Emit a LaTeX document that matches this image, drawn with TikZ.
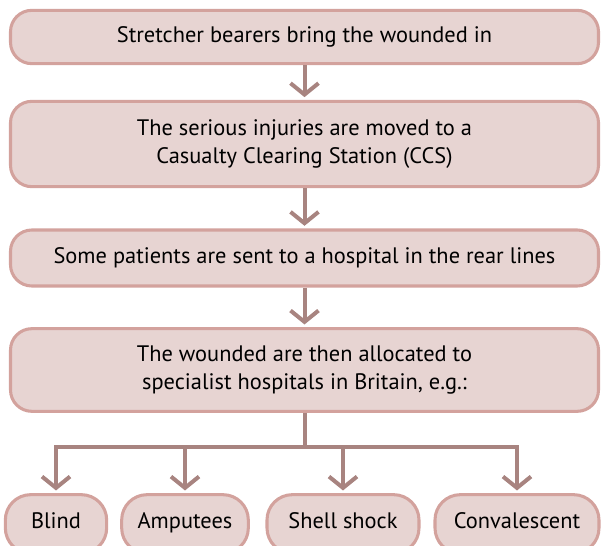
\documentclass[tikz,border=0pt]{standalone}
\usepackage{fontspec}
\setmainfont{PT Sans}
\usepackage{tikz}
\usetikzlibrary{arrows.meta, positioning}
\usepackage{xcolor}
\definecolor{boxfill}{RGB}{231, 212, 210}
\definecolor{boxline}{RGB}{211, 162, 157}
\definecolor{flowline}{RGB}{168, 132, 128}

\tikzset{
  stage/.style={draw=boxline, fill=boxfill, line width=2.3pt, rounded corners=16pt,
    align=center, inner sep=0pt, font=\fontsize{16.8}{20.5}\selectfont},
  ward/.style={stage, rounded corners=19pt, text height=0.95em, text depth=0.25em},
  flow/.style={draw=flowline, line width=3pt,
    -{Straight Barb[length=8.5pt, width=21pt, line width=3pt]}, shorten >=2pt}
}

\begin{document}
\begin{tikzpicture}[x=0.75pt, y=-0.75pt]
      \useasboundingbox (0,0) rectangle (601,546);
      \clip (0,0) rectangle (601,546);
      % main chain
      \node[stage, minimum width=441pt, minimum height=40pt] (bearers) at (304.5,37)
        {Stretcher bearers bring the wounded in};
      \node[stage, minimum width=441pt, minimum height=64pt] (ccs) at (304.5,144)
        {The serious injuries are moved to a\\Casualty Clearing Station (CCS)};
      \node[stage, minimum width=441pt, minimum height=42pt] (rear) at (304.5,258)
        {Some patients are sent to a hospital in the rear lines};
      \node[stage, minimum width=441pt, minimum height=62pt] (britain) at (304.5,370)
        {The wounded are then allocated to\\specialist hospitals in Britain, e.g.:};
      % specialist hospitals
      \node[ward, minimum width=76pt, minimum height=44pt] (blind) at (56,524) {Blind};
      \node[ward, minimum width=95pt, minimum height=44pt] (amputees) at (185,524) {Amputees};
      \node[ward, minimum width=114pt, minimum height=44pt] (shell) at (343,524) {Shell shock};
      \node[ward, minimum width=123pt, minimum height=44pt] (convalescent) at (517,524) {Convalescent};
      \draw[flow] (bearers) -- (ccs);
      \draw[flow] (ccs) -- (rear);
      \draw[flow] (rear) -- (britain);
      \coordinate (split) at (304.5,447);
      \draw[draw=flowline, line width=3pt] (britain.south) -- (split);
      \draw[flow] (split) -| (blind);
      \draw[flow] (split) -| (amputees);
      \draw[flow] (split) -| (shell);
      \draw[flow] (split) -| (convalescent);
    \end{tikzpicture}
\end{document}
